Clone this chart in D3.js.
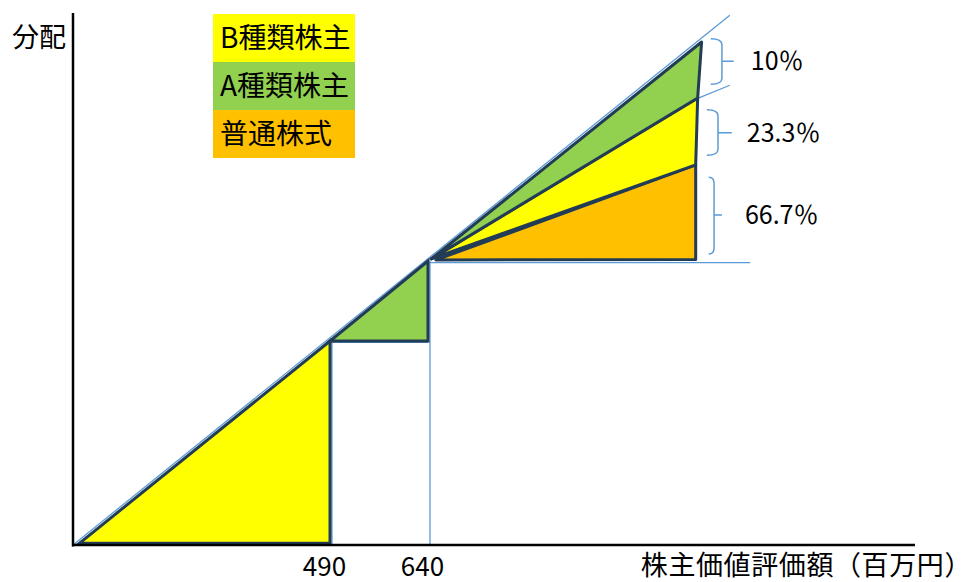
<!DOCTYPE html>
<html><head><meta charset="utf-8">
<script src="https://cdn.jsdelivr.net/npm/d3@7"></script>
<style>
body{margin:0;background:#fff}
svg{display:block}
text{font-family:"Noto Sans CJK JP","Noto Sans",sans-serif;fill:#000}
</style>
</head><body><svg id="c" width="973" height="582"></svg>
<script>
// ---- data (value units) ----
const breakpoints = [0, 490, 640, 1050];            // 株主価値評価額 break values
const tickValues = [490, 640];
const legendLabels = ["B種類株主", "A種類株主", "普通株式"];
const legendColors = ["#FFFF00", "#92D050", "#FFC000"];
const bPoly = [[12, 4], [490, 490], [490, 4]];        // B種類株主 (0–490)
const aPoly = [[490, 490], [640, 640], [640, 490]];   // A種類株主 (490–640)
const fanApex = [[645, 644], [645, 644], [652, 642]]; // apex of each wedge above 640
const fanEdge = [[1057, 1050], [1051, 945], [1048, 820], [1048, 643]]; // right edge, top→bottom
const fanColors = ["#92D050", "#FFFF00", "#FFC000"];
const shareLabels = ["10％", "23.3％", "66.7％"];
const braceTop = [1056, 923, 797];
const braceBottom = [971, 838, 653];
const braceMid = [1014, 880, 726];
const braceEnd = [1071, 1065, 1068];
const braceSpine = [1088, 1082, 1076];
const braceTip = [1106, 1103, 1088];
const labelX = [1132, 1126, 1123];
const guideLines = [
  [[0, 0], [1100, 1100]],
  [[493, 488], [493, 0]],
  [[490, 487], [640, 487]],
  [[643, 640], [643, 0]],
  [[640, 637], [1131, 637]],
  [[1052, 945], [1100, 969]]
];

// ---- scales ----
const svg = d3.select("#c");
const x = d3.scaleLinear().domain(breakpoints).range([73, 330, 428, 697]);
const y = d3.scaleLinear().domain(breakpoints).range([545, 341, 261, 42]);
const line = d3.line().x(d => x(d[0])).y(d => y(d[1]));
const poly = pts => line(pts) + "Z";

const DARK = "#233c56", BLUE = "#5B9BD5";

// guide lines
svg.append("g").selectAll("path").data(guideLines).join("path")
  .attr("d", line).attr("fill", "none").attr("stroke", BLUE).attr("stroke-width", 1.3);

// shapes
svg.append("path").attr("d", poly(bPoly)).attr("fill", legendColors[0])
  .attr("stroke", DARK).attr("stroke-width", 3).attr("stroke-linejoin", "miter");
svg.append("path").attr("d", poly(aPoly)).attr("fill", legendColors[1])
  .attr("stroke", DARK).attr("stroke-width", 3);

const fans = fanColors.map((c, i) => ({c, pts: [fanApex[i], fanEdge[i], fanEdge[i + 1]]}));
svg.append("g").selectAll("path").data(fans.slice().reverse()).join("path")
  .attr("d", d => poly(d.pts)).attr("fill", d => d.c)
  .attr("stroke", DARK).attr("stroke-width", 3).attr("stroke-linejoin", "round");

// axes
svg.append("line").attr("x1", 73).attr("x2", 73).attr("y1", 13).attr("y2", 546.5)
  .attr("stroke", "#000").attr("stroke-width", 2.5);
svg.append("line").attr("x1", 72).attr("x2", 915).attr("y1", 545).attr("y2", 545)
  .attr("stroke", "#000").attr("stroke-width", 2.5);

const xAxis = svg.append("g").attr("transform", "translate(0,545)")
  .call(d3.axisBottom(x).tickValues(tickValues).tickSize(0).tickPadding(0));
xAxis.select(".domain").remove();
xAxis.selectAll("text").attr("dy", 0).attr("y", 31).attr("dx", -6)
  .style("font-size", "26px").style("font-family", '"Noto Sans CJK JP",sans-serif').attr("fill", "#000");

svg.append("text").attr("x", 972).attr("y", 575).attr("text-anchor", "end")
  .style("font-size", "27px").style("letter-spacing", "0.6px").text("株主価値評価額（百万円）");
svg.append("text").attr("x", 66).attr("y", 47).attr("text-anchor", "end")
  .style("font-size", "27px").text("分配");

// legend
const lg = svg.append("g");
lg.selectAll("rect").data(legendLabels).join("rect")
  .attr("x", 213).attr("y", (d, i) => 14 + i * 48).attr("width", 142).attr("height", 48)
  .attr("fill", (d, i) => legendColors[i]);
lg.selectAll("text").data(legendLabels).join("text")
  .attr("x", 220).attr("y", (d, i) => 48 + i * 48)
  .style("font-size", "28px").text(d => d);

// braces and share labels
const braceData = shareLabels.map((t, i) => ({
  t, top: y(braceTop[i]), bot: y(braceBottom[i]), mid: y(braceMid[i]),
  e: x(braceEnd[i]), s: x(braceSpine[i]), tip: x(braceTip[i]), lx: x(labelX[i])
}));
svg.append("g").selectAll("path").data(braceData).join("path")
  .attr("d", d => {
    const r = 6;
    return `M${d.e},${d.top} Q${d.s},${d.top} ${d.s},${d.top + r} L${d.s},${d.bot - r} Q${d.s},${d.bot} ${d.e},${d.bot}` +
      ` M${d.s},${d.mid} L${d.tip},${d.mid}`;
  })
  .attr("fill", "none").attr("stroke", BLUE).attr("stroke-width", 1.5);
svg.append("g").selectAll("text").data(braceData).join("text")
  .attr("x", d => d.lx).attr("y", d => d.mid + 9)
  .style("font-size", "25px").text(d => d.t);
</script>
</body></html>
